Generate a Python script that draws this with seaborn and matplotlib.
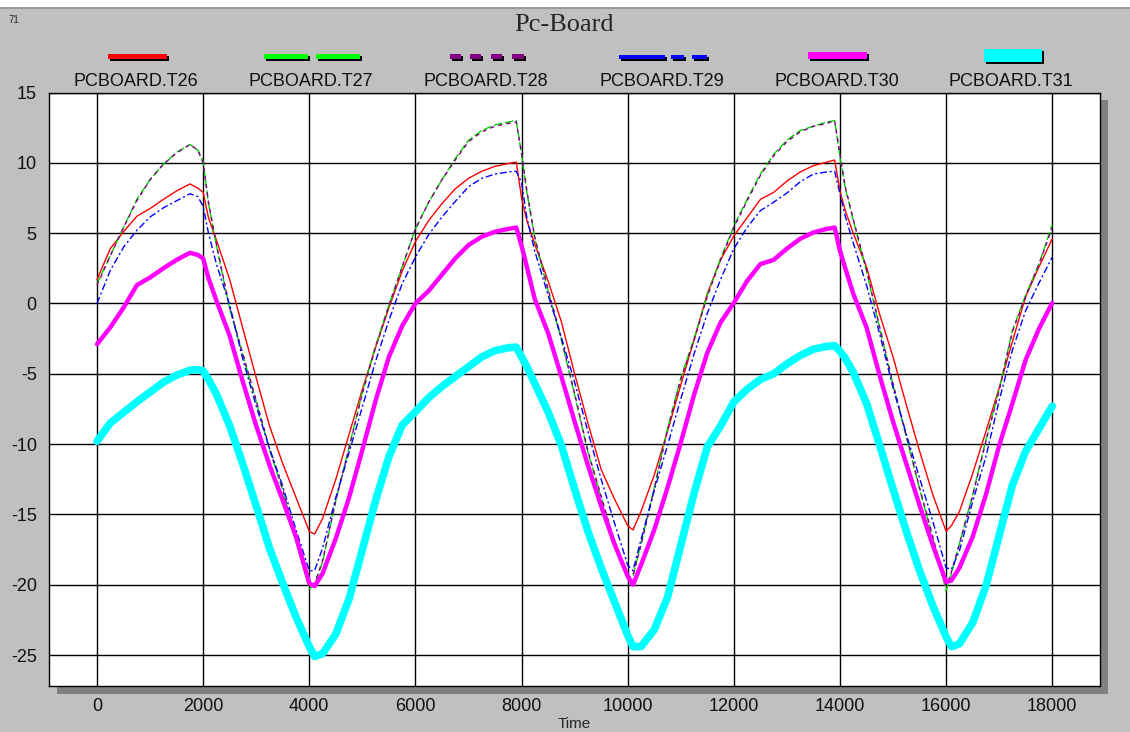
import matplotlib
matplotlib.use("Agg")
import matplotlib.pyplot as plt
from matplotlib.patches import Rectangle
from matplotlib.ticker import MultipleLocator
import pandas as pd
import seaborn as sns

# time axis knots (s)
TIME = [0, 250, 500, 750, 1000, 1250, 1500, 1750, 1900, 2000, 2100, 2250, 2500, 2750,
        3000, 3250, 3500, 3750, 4000, 4100, 4250, 4500, 4750, 5000, 5250, 5500, 5750,
        6000, 6250, 6500, 6750, 7000, 7250, 7500, 7750, 7900, 8000, 8100, 8250, 8500, 8750,
        9000, 9250, 9500, 9750, 10000, 10100, 10250, 10500, 10750, 11000, 11250, 11500, 11750,
        12000, 12250, 12500, 12750, 13000, 13250, 13500, 13750, 13900, 14000, 14100, 14250, 14500, 14750,
        15000, 15250, 15500, 15750, 16000, 16100, 16250, 16500, 16750, 17000, 17250, 17500, 17750,
        18000]

SERIES = ["PCBOARD.T26", "PCBOARD.T27", "PCBOARD.T28",
          "PCBOARD.T29", "PCBOARD.T30", "PCBOARD.T31"]

T26 = [1.7, 3.9, 5.1, 6.2, 6.75, 7.4, 8.0, 8.5, 8.2, 7.9, 6.1, 4.5, 1.7, -1.8,
       -5.3, -8.7, -11.4, -13.8, -16.2, -16.4, -15.3, -12.5, -9.3, -6.1, -3.1, -0.3, 2.3,
       4.4, 5.9, 7.1, 8.15, 8.9, 9.4, 9.75, 9.95, 10.05, 7.5, 5.9, 4.2, 1.6, -1.3,
       -5.0, -8.5, -11.8, -13.9, -15.8, -16.1, -14.8, -12.2, -9.1, -5.8, -2.6, 0.7, 3.1,
       4.8, 6.1, 7.4, 7.9, 8.7, 9.35, 9.8, 10.05, 10.2, 8.0, 6.6, 5.0, 2.6, -0.8,
       -3.8, -7.2, -10.5, -13.6, -16.2, -15.8, -14.8, -12.1, -9.1, -6.0, -2.7, 0.5, 2.6,
       4.6]

T27 = [1.4, 3.4, 5.4, 7.4, 8.8, 9.9, 10.75, 11.3, 10.9, 10.1, 7.1, 4.1, -0.4, -3.7,
       -7.0, -10.4, -13.3, -16.9, -20.3, -20.0, -18.4, -14.0, -10.2, -6.3, -3.0, -0.1, 2.6,
       5.3, 7.2, 8.8, 10.3, 11.6, 12.3, 12.7, 12.9, 13.0, 10.6, 7.9, 4.6, 0.9, -2.6,
       -6.5, -10.6, -13.8, -17.0, -19.5, -19.4, -17.1, -13.1, -8.9, -5.3, -2.5, 0.6, 3.2,
       5.5, 7.4, 9.2, 10.6, 11.6, 12.3, 12.6, 12.9, 13.0, 10.4, 8.2, 5.9, 2.3, -1.8,
       -5.8, -9.5, -13.2, -16.7, -20.4, -19.2, -17.1, -13.6, -9.7, -6.1, -1.9, 0.6, 2.8,
       5.6]

T28 = [1.3, 3.4, 5.4, 7.3, 8.8, 9.9, 10.7, 11.3, 10.9, 10.0, 7.2, 4.2, -0.3, -3.6,
       -6.9, -10.3, -13.2, -16.8, -20.0, -19.9, -18.3, -14.0, -10.3, -6.4, -3.1, -0.2, 2.6,
       5.3, 7.2, 8.8, 10.2, 11.5, 12.2, 12.6, 12.8, 12.9, 10.7, 8.0, 4.7, 1.0, -2.5,
       -6.4, -10.5, -13.7, -16.9, -19.3, -19.3, -17.2, -13.2, -9.0, -5.4, -2.6, 0.5, 3.1,
       5.4, 7.3, 9.1, 10.5, 11.5, 12.2, 12.6, 12.8, 13.0, 10.6, 8.3, 6.0, 2.4, -1.7,
       -5.7, -9.4, -13.1, -16.6, -20.1, -19.1, -17.1, -13.7, -9.8, -6.2, -2.0, 0.5, 2.8,
       5.4]

T29 = [0.0, 2.35, 4.0, 5.2, 6.15, 6.8, 7.3, 7.8, 7.6, 6.9, 5.0, 2.8, -0.1, -4.0,
       -7.3, -10.3, -13.0, -16.1, -19.0, -19.0, -17.4, -13.8, -10.6, -7.35, -4.1, -1.2, 1.4,
       3.3, 4.9, 6.15, 7.25, 8.3, 8.9, 9.2, 9.35, 9.4, 8.6, 6.1, 3.7, 0.6, -2.4,
       -5.6, -9.1, -12.5, -15.6, -18.6, -19.0, -16.8, -13.3, -10.1, -6.8, -3.6, -0.7, 1.7,
       3.9, 5.4, 6.6, 7.2, 7.85, 8.65, 9.2, 9.35, 9.4, 7.8, 6.2, 4.3, 1.3, -2.2,
       -6.0, -9.3, -12.4, -15.5, -18.8, -18.9, -17.6, -14.1, -10.9, -6.9, -3.3, -0.5, 1.45,
       3.3]

T30 = [-2.9, -1.7, -0.3, 1.3, 1.85, 2.5, 3.1, 3.6, 3.45, 3.2, 1.8, 0.2, -2.3, -5.6,
       -8.7, -11.5, -14.0, -16.6, -19.9, -20.1, -19.2, -16.7, -13.8, -10.4, -6.9, -3.8, -1.6,
       0.0, 0.9, 2.05, 3.2, 4.15, 4.75, 5.1, 5.3, 5.4, 4.1, 2.6, 0.3, -2.1, -5.2,
       -8.4, -11.5, -14.4, -17.1, -19.4, -20.0, -18.6, -16.1, -13.1, -9.9, -6.5, -3.5, -1.35,
       0.05, 1.6, 2.8, 3.1, 3.9, 4.6, 5.05, 5.3, 5.4, 3.75, 2.5, 0.7, -1.7, -5.15,
       -8.4, -11.4, -14.35, -17.2, -19.8, -19.7, -18.8, -16.6, -13.6, -10.1, -7.1, -4.0, -1.8,
       0.05]

T31 = [-9.8, -8.5, -7.75, -7.0, -6.3, -5.6, -5.1, -4.75, -4.7, -4.8, -5.4, -6.45, -8.7, -11.45,
       -14.4, -17.4, -19.9, -22.3, -24.4, -25.1, -24.9, -23.5, -21.0, -17.5, -14.0, -10.9, -8.65,
       -7.7, -6.7, -5.9, -5.2, -4.5, -3.8, -3.35, -3.15, -3.1, -3.8, -4.5, -5.7, -7.7, -10.1,
       -13.2, -16.2, -18.8, -21.2, -23.6, -24.4, -24.4, -23.2, -20.9, -17.2, -13.5, -10.2, -8.7,
       -7.0, -6.1, -5.4, -5.0, -4.3, -3.7, -3.25, -3.05, -3.0, -3.4, -3.9, -4.9, -7.1, -10.1,
       -13.2, -16.2, -19.0, -21.5, -23.7, -24.4, -24.2, -22.7, -20.1, -16.5, -12.9, -10.5, -8.9,
       -7.3]

# styles
COLORS = {"PCBOARD.T26": "#ff0000", "PCBOARD.T27": "#00d400", "PCBOARD.T28": "#800080",
          "PCBOARD.T29": "#0000ff", "PCBOARD.T30": "#ff00ff", "PCBOARD.T31": "#00ffff"}
WIDTHS = {"PCBOARD.T26": 1.0, "PCBOARD.T27": 1.0, "PCBOARD.T28": 1.0,
          "PCBOARD.T29": 1.0, "PCBOARD.T30": 3.2, "PCBOARD.T31": 5.5}
DASHES = {"PCBOARD.T26": "", "PCBOARD.T27": (6, 2), "PCBOARD.T28": (3, 3),
          "PCBOARD.T29": (5, 2, 1.5, 2), "PCBOARD.T30": "", "PCBOARD.T31": ""}

W, H = 1130, 732
BG = "#c0c0c0"


def fx(x):
    return x / W


def fy(y):
    return 1 - y / H


def px_rect(fig, x0, y0, x1, y1, color, z=1):
    fig.add_artist(Rectangle((fx(x0), fy(y1)), fx(x1) - fx(x0), fy(y0) - fy(y1),
                             transform=fig.transFigure, facecolor=color,
                             edgecolor="none", zorder=z))


def main():
    sns.set_style("white")
    plt.rcParams["font.family"] = ["Liberation Sans", "DejaVu Sans"]
    plt.rcParams["axes.unicode_minus"] = False

    values = [T26, T27, T28, T29, T30, T31]
    df = pd.concat([pd.DataFrame({"Time": TIME, "value": v, "series": name})
                    for name, v in zip(SERIES, values)], ignore_index=True)

    fig = plt.figure(figsize=(W / 100, H / 100), dpi=100, facecolor=BG)

    # window chrome: white strip on top, axes drop shadow
    px_rect(fig, 0, 0, W, 7, "white", z=-2)
    px_rect(fig, 0, 7, W, 8.5, "#9a9a9a", z=-2)
    px_rect(fig, 57, 100, 1108, 694, "#808080", z=-1)

    ax = fig.add_axes([fx(49), fy(686), fx(1100) - fx(49), fy(92.5) - fy(686)])
    ax.set_facecolor("white")

    sns.lineplot(data=df, x="Time", y="value", hue="series", size="series", style="series",
                 palette=COLORS, sizes=WIDTHS, dashes=DASHES, hue_order=SERIES,
                 size_order=SERIES, style_order=SERIES, estimator=None, sort=False,
                 legend=False, ax=ax)

    ax.set_xlim(-905, 18900)
    ax.set_ylim(-27.2, 15)
    ax.xaxis.set_major_locator(MultipleLocator(2000))
    ax.xaxis.set_minor_locator(MultipleLocator(500))
    ax.yaxis.set_major_locator(MultipleLocator(5))
    ax.yaxis.set_minor_locator(MultipleLocator(1))
    ax.grid(True, which="major", color="black", linewidth=1.0)
    ax.set_axisbelow(True)
    ax.tick_params(which="major", direction="out", length=5.8, width=1, color="black",
                   labelsize=13, labelcolor="#111111", pad=3)
    ax.tick_params(which="minor", direction="in", length=5.8, width=1, color="black",
                   top=False, right=False)
    for s in ax.spines.values():
        s.set_color("black")
        s.set_linewidth(1.0)
    ax.set_ylabel("")
    ax.set_xlabel("Time", fontsize=11, labelpad=1)

    # header texts
    fig.text(fx(8), fy(20), "71", fontsize=7, va="center", ha="left")
    fig.text(fx(564), fy(25), "Pc-Board", fontsize=19, family="Liberation Serif",
             ha="center", va="center")

    # legend row: sample above each label
    centers = [136, 311, 486, 662, 837, 1011]
    samples = {
        "PCBOARD.T26": [(108, 167)],
        "PCBOARD.T27": [(264, 308), (316, 360)],
        "PCBOARD.T28": [(450, 461), (470, 481), (491, 502), (512, 524)],
        "PCBOARD.T29": [(619, 665), (671, 684), (692, 707)],
        "PCBOARD.T30": [(808, 867)],
        "PCBOARD.T31": [(984, 1042)],
    }
    heights = {"PCBOARD.T26": (54.5, 58.5), "PCBOARD.T27": (54.5, 58.5),
               "PCBOARD.T28": (54.5, 58.5), "PCBOARD.T29": (55, 59),
               "PCBOARD.T30": (52, 59), "PCBOARD.T31": (49, 62)}
    legend_colors = dict(COLORS, **{"PCBOARD.T27": "#00ff00"})
    for name, cx in zip(SERIES, centers):
        top, bot = heights[name]
        for x0, x1 in samples[name]:
            px_rect(fig, x0 + 2, top + 2, x1 + 2, bot + 2, "black", z=3)
            px_rect(fig, x0, top, x1, bot, legend_colors[name], z=4)
        fig.text(fx(cx), fy(86), name, fontsize=13, ha="center", va="baseline",
                 color="#111111")

    fig.savefig("out.png", dpi=100, facecolor=BG)


if __name__ == "__main__":
    main()
